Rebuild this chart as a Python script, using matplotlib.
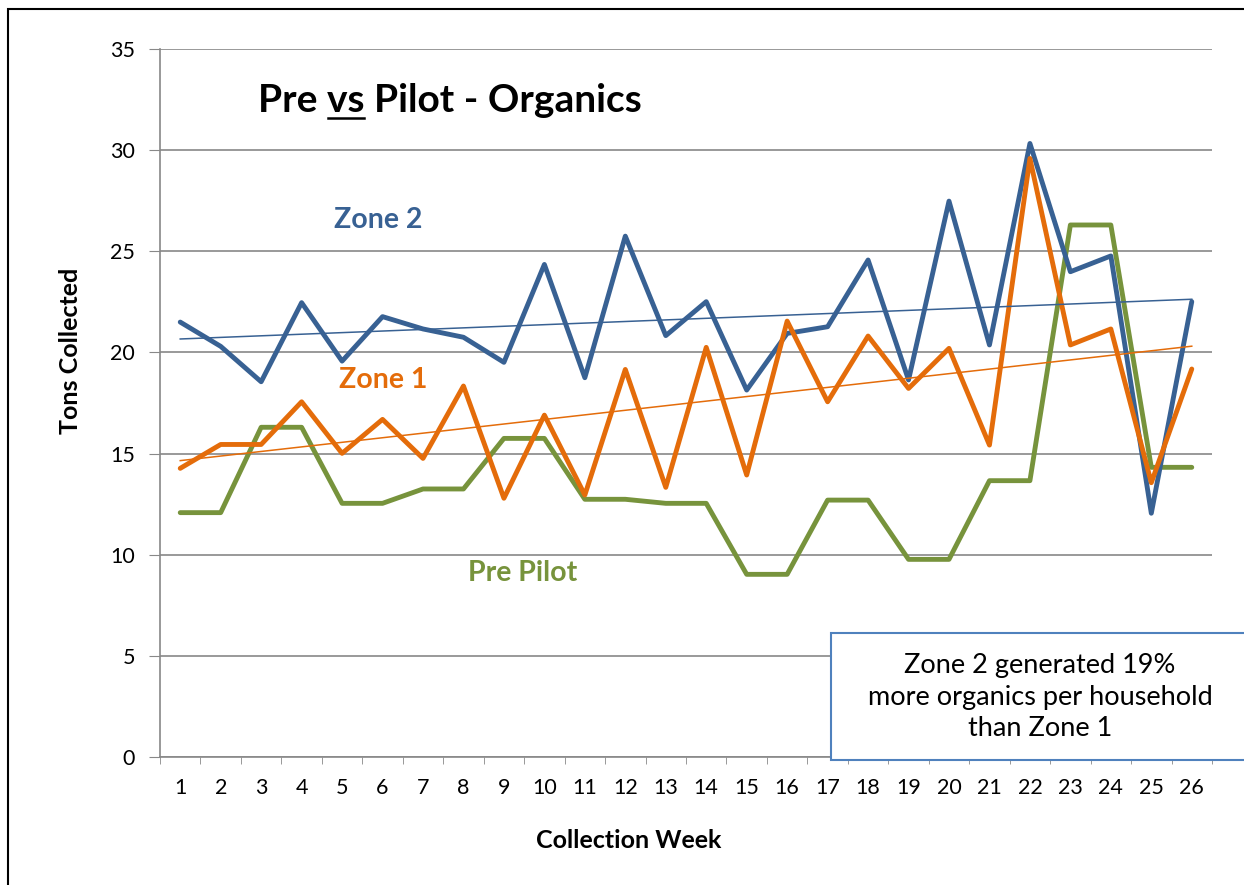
import numpy as np
import matplotlib
matplotlib.use("Agg")
import matplotlib.pyplot as plt
from matplotlib.patches import Rectangle
from matplotlib.lines import Line2D

plt.rcParams['font.family'] = ['Lato', 'DejaVu Sans']

weeks = list(range(1, 27))
zone2 = [21.5, 20.3, 18.55, 22.46, 19.57, 21.77, 21.16, 20.75, 19.51, 24.35,
         18.75, 25.75, 20.83, 22.51, 18.14, 20.94, 21.27, 24.57, 18.64, 27.48,
         20.37, 30.33, 23.99, 24.77, 12.05, 22.51]
zone1 = [14.27, 15.45, 15.45, 17.56, 15.01, 16.69, 14.76, 18.34, 12.79, 16.9,
         12.95, 19.16, 13.33, 20.25, 13.94, 21.55, 17.56, 20.81, 18.22, 20.2,
         15.42, 29.59, 20.37, 21.16, 13.56, 19.18]
pre_pilot = [12.08, 12.08, 16.3, 16.3, 12.54, 12.54, 13.25, 13.25, 15.75, 15.75,
             12.74, 12.74, 12.54, 12.54, 9.03, 9.03, 12.7, 12.7, 9.77, 9.77,
             13.66, 13.66, 26.3, 26.3, 14.32, 14.32]
yticks = [0, 5, 10, 15, 20, 25, 30, 35]

BLUE = '#386193'
ORANGE = '#E46C0A'
GREEN = '#77933C'
GRID = '#888888'

W, H = 1244, 885
fig = plt.figure(figsize=(W / 100, H / 100), dpi=100)

def fx(px):
    return px / W

def fy(py):
    return 1 - py / H

ax = fig.add_axes([fx(160), fy(757), fx(1212) - fx(160), fy(49) - fy(757)])

x = np.array(weeks)
LW = 3.5
ax.plot(x, zone2, color=BLUE, lw=LW, solid_joinstyle='round', solid_capstyle='round', zorder=4)
ax.plot(x, zone1, color=ORANGE, lw=LW, solid_joinstyle='round', solid_capstyle='round', zorder=4)
ax.plot(x, pre_pilot, color=GREEN, lw=LW, solid_joinstyle='round', solid_capstyle='round', zorder=3)

# linear trend lines
for series, col in [(zone2, BLUE), (zone1, ORANGE)]:
    k, b = np.polyfit(x, series, 1)
    ax.plot([x[0], x[-1]], [k * x[0] + b, k * x[-1] + b], color=col, lw=1.1, zorder=5)

ax.set_xlim(0.5, 26.5)
ax.set_ylim(0, 35)
ax.set_yticks(yticks)
ax.set_yticklabels([str(v) for v in yticks], fontsize=15.5)
ax.set_xticks(weeks)
ax.set_xticklabels([str(w) for w in weeks], fontsize=15.5)
ax.set_xticks(np.arange(0.5, 27, 1), minor=True)
ax.tick_params(axis='x', which='major', length=0, pad=15)
ax.tick_params(axis='x', which='minor', length=5, color=GRID, direction='out')
ax.tick_params(axis='y', which='major', length=8, color=GRID, direction='out', pad=10)
ax.grid(axis='y', color=GRID, lw=1.2)
ax.set_axisbelow(True)
for s in ['top', 'right']:
    ax.spines[s].set_visible(False)
ax.spines['left'].set_color(GRID)
ax.spines['bottom'].set_color(GRID)
ax.spines['left'].set_linewidth(1.2)
ax.spines['bottom'].set_linewidth(1.2)

# axis titles
fig.text(fx(70), fy(351), 'Tons Collected', fontsize=18, fontweight='bold',
         rotation=90, ha='center', va='center')
fig.text(fx(629), fy(840), 'Collection Week', fontsize=18, fontweight='bold',
         ha='center', va='center')

# title with underlined "vs"
TITLE_FS = 28
title = fig.text(fx(258), fy(112), 'Pre vs Pilot - Organics', fontsize=TITLE_FS,
                 fontweight='bold', ha='left', va='baseline')
renderer = fig.canvas.get_renderer()
def text_width(s):
    t = fig.text(0, 0, s, fontsize=TITLE_FS, fontweight='bold')
    w = t.get_window_extent(renderer).width
    t.remove()
    return w
w_prevs = text_width('Pre vs')
w_vs = text_width('vs')
x0 = 258 + w_prevs - w_vs
x1 = 258 + w_prevs
fig.add_artist(Line2D([fx(x0 + 1), fx(x1 - 1)], [fy(118), fy(118)],
                      transform=fig.transFigure, color='black', lw=1.8))

# labels on lines
fig.text(fx(378), fy(220), 'Zone 2', color=BLUE, fontsize=20.5, fontweight='bold', ha='center', va='center')
fig.text(fx(383), fy(380), 'Zone 1', color=ORANGE, fontsize=20.5, fontweight='bold', ha='center', va='center')
fig.text(fx(523), fy(573), 'Pre Pilot', color=GREEN, fontsize=20.5, fontweight='bold', ha='center', va='center')

# annotation box
rect = Rectangle((fx(831), fy(760)), fx(1260) - fx(831), fy(633) - fy(760),
                 transform=fig.transFigure, facecolor='white', edgecolor='#4F81BD',
                 lw=1.5, zorder=10)
fig.patches.append(rect)
fig.text(fx(1040), fy(697), 'Zone 2 generated 19%\nmore organics per household\nthan Zone 1',
         fontsize=19.5, ha='center', va='center', linespacing=1.32, zorder=11)

# outer border
border = Rectangle((fx(8), fy(900)), fx(1260) - fx(8), fy(9) - fy(900),
                   transform=fig.transFigure, facecolor='none', edgecolor='black',
                   lw=1.5, zorder=12)
fig.patches.append(border)

fig.savefig('out.png', dpi=100)
